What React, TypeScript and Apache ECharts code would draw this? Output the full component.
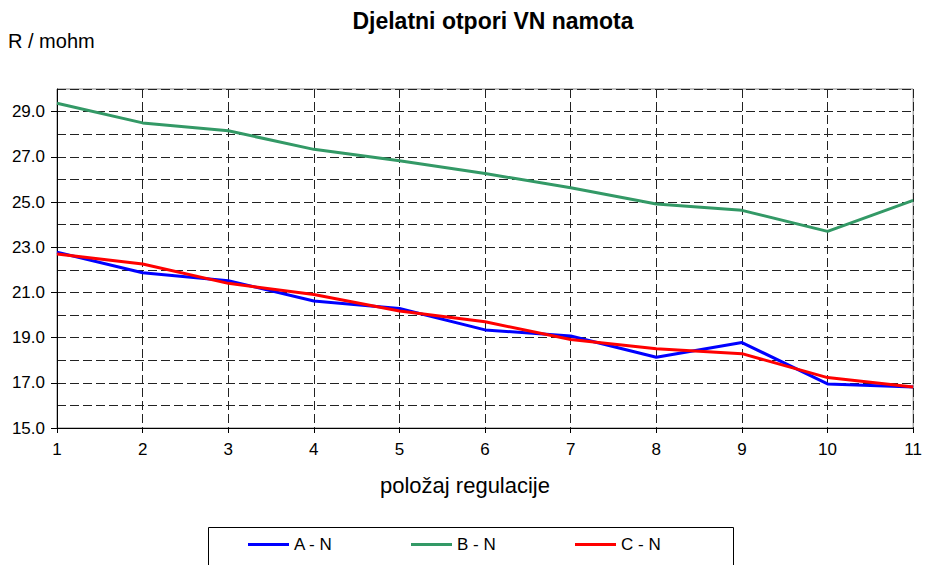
import React, { useEffect, useRef } from "react";
import * as echarts from "echarts";

const positions = [1, 2, 3, 4, 5, 6, 7, 8, 9, 10, 11];
const seriesNames = ["A - N", "B - N", "C - N"];
const valuesA = [22.78, 21.87, 21.52, 20.62, 20.29, 19.34, 19.07, 18.13, 18.78, 16.95, 16.81];
const valuesB = [29.37, 28.5, 28.15, 27.33, 26.83, 26.26, 25.63, 24.91, 24.63, 23.7, 25.07];
const valuesC = [22.7, 22.26, 21.4, 20.91, 20.18, 19.7, 18.92, 18.51, 18.29, 17.23, 16.81];
const yTickLabels = [15, 17, 19, 21, 23, 25, 27, 29];
const colors = ["#0000FF", "#339966", "#FF0000"];
const titleText = "Djelatni otpori VN namota";
const yName = "R / mohm";
const xName = "položaj regulacije";

const FONT = "'Liberation Sans', Arial, sans-serif";

export default function App() {
  const ref = useRef<HTMLDivElement>(null);
  useEffect(() => {
    if (!ref.current) return;
    const chart = echarts.init(ref.current, null, { renderer: "svg" });
    const dash = { type: [9, 4] as any, color: "#222", width: 1 };
    const all = [valuesA, valuesB, valuesC];
    const legendLefts = [248, 411, 575];
    chart.setOption({
      animation: false,
      textStyle: { fontFamily: FONT },
      grid: {
        left: 57,
        right: 11,
        top: 89,
        bottom: 137,
        show: true,
        borderColor: "#808080",
        borderWidth: 1,
      },
      xAxis: {
        type: "value",
        min: 1,
        max: 11,
        interval: 1,
        axisLine: { show: true, lineStyle: { color: "#000", width: 1 } },
        axisTick: { show: true, length: 5, lineStyle: { color: "#000" } },
        axisLabel: { color: "#000", fontSize: 17, margin: 13, fontFamily: FONT },
        splitLine: { show: true, lineStyle: dash },
      },
      yAxis: [
        {
          type: "value",
          min: 15,
          max: 30,
          interval: 1,
          axisLine: { show: true, lineStyle: { color: "#000", width: 1 } },
          axisTick: { show: false },
          axisLabel: { show: false },
          splitLine: { show: true, lineStyle: dash },
        },
        {
          type: "value",
          position: "left",
          min: 15,
          max: 30,
          interval: 1,
          axisLine: { show: false },
          axisTick: { show: true, length: 6, customValues: yTickLabels, lineStyle: { color: "#000" } },
          axisLabel: {
            color: "#000",
            fontSize: 17,
            margin: 12,
            fontFamily: FONT,
            customValues: yTickLabels,
            formatter: (v: number) => v.toFixed(1),
          },
          splitLine: { show: false },
        },
      ],
      legend: seriesNames.map((n, i) => ({
        data: [n],
        left: legendLefts[i],
        top: 536,
        icon: "rect",
        itemWidth: 41,
        itemHeight: 3,
        padding: 0,
        textStyle: { fontSize: 17, color: "#000", fontFamily: FONT },
      })),
      graphic: [
        {
          type: "text",
          style: {
            x: 493,
            y: 21,
            text: titleText,
            font: `bold 23px ${FONT}`,
            fill: "#000",
            textAlign: "center",
            textVerticalAlign: "middle",
          },
        },
        {
          type: "text",
          style: {
            x: 8,
            y: 41,
            text: yName,
            font: `20px ${FONT}`,
            fill: "#000",
            textAlign: "left",
            textVerticalAlign: "middle",
          },
        },
        {
          type: "text",
          style: {
            x: 465,
            y: 485,
            text: xName,
            font: `22px ${FONT}`,
            fill: "#000",
            textAlign: "center",
            textVerticalAlign: "middle",
          },
        },
        {
          type: "rect",
          shape: { x: 208.5, y: 527.5, width: 525, height: 60 },
          style: { fill: "none", stroke: "#000", lineWidth: 1 },
          z: -1,
        },
      ],
      series: seriesNames.map((n, i) => ({
        name: n,
        type: "line",
        data: positions.map((x, j) => [x, all[i][j]]),
        showSymbol: false,
        symbol: "none",
        lineStyle: { color: colors[i], width: 3 },
        itemStyle: { color: colors[i] },
      })),
    });
    return () => chart.dispose();
  }, []);
  return (
    <div
      ref={ref}
      style={{ position: "fixed", left: 0, top: 0, width: 925, height: 565, background: "#fff" }}
    />
  );
}
